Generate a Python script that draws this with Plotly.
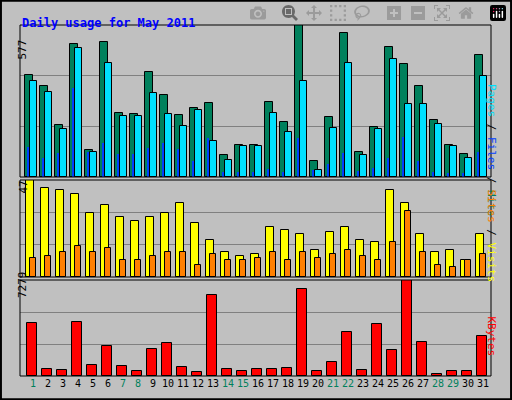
import plotly.graph_objects as go

days = list(range(1, 32))
hits = [386, 347, 199, 503, 101, 511, 242, 238, 398, 312, 234, 261, 281, 82, 121, 121,
        285, 207, 577, 62, 226, 546, 94, 191, 495, 429, 347, 215, 121, 86, 464]
files = [363, 324, 183, 488, 94, 433, 230, 230, 320, 238, 195, 254, 137, 66, 117, 117,
         242, 172, 363, 27, 187, 433, 82, 183, 449, 277, 277, 203, 117, 74, 382]
pages = [113, 74, 90, 339, 94, 129, 86, 86, 109, 129, 105, 59, 148, 20, 20, 20,
         31, 20, 148, 27, 51, 90, 23, 35, 74, 152, 59, 20, 16, 16, 94]
visits = [47, 43, 42, 40, 31, 35, 29, 27, 29, 31, 36, 26, 18, 12, 10, 11,
          24, 23, 21, 13, 22, 24, 18, 17, 42, 36, 21, 12, 13, 8, 21]
sites = [9, 10, 12, 15, 12, 14, 8, 8, 10, 12, 12, 6, 11, 8, 8, 9,
         12, 8, 12, 9, 11, 13, 10, 8, 17, 32, 12, 6, 5, 8, 11]
kbytes = [4011, 505, 425, 4091, 824, 2258, 744, 345, 2019, 2497, 664, 266, 6163, 505, 345, 505,
          505, 584, 6561, 345, 1063, 3374, 425, 3932, 1939, 7279, 2577, 186, 345, 345, 3055]
weekends = [1, 7, 8, 14, 15, 21, 22, 28, 29]

W, H = 512, 400
L, R = 20, 491
panels = {"y": (25, 177), "y2": (180, 277), "y3": (280, 376)}
mono = "DejaVu Sans Mono"


def dom(top, bot):
    return [1 - bot / H, 1 - top / H]


def off(vals, d):
    return [v + d for v in vals]


line = dict(color="black", width=1)
fig = go.Figure()
fig.add_bar(x=off(days, -0.27), y=hits, width=0.47, marker=dict(color="#00805c", line=line), yaxis="y")
fig.add_bar(x=off(days, 0.0), y=files, width=0.47, marker=dict(color="#00e0ff", line=line), yaxis="y")
fig.add_bar(x=off(days, -0.32), y=pages, width=0.15, marker=dict(color="#0040ff", line=dict(width=0)), yaxis="y")
fig.add_bar(x=off(days, -0.22), y=visits, width=0.53, marker=dict(color="#ffff00", line=line), yaxis="y2")
fig.add_bar(x=off(days, 0.0), y=sites, width=0.45, marker=dict(color="#ff8000", line=line), yaxis="y2")
fig.add_bar(x=off(days, -0.1), y=kbytes, width=0.67, marker=dict(color="#ff0000", line=line), yaxis="y3")

ticktext = [f'<span style="color:#00805c">{d}</span>' if d in weekends else str(d) for d in days]


def yax(name, mx):
    t, b = panels[name]
    return dict(domain=dom(t, b), range=[0, mx], tickvals=[mx / 3, 2 * mx / 3],
                showticklabels=False, gridcolor="#808080", gridwidth=1,
                zeroline=False, showline=False, ticks="", fixedrange=True, anchor="x")


fig.update_layout(
    width=W, height=H, barmode="overlay", showlegend=False,
    paper_bgcolor="#c0c0c0", plot_bgcolor="#c0c0c0",
    margin=dict(l=L, r=W - R, t=0, b=0),
    bargap=0,
    xaxis=dict(range=[0.13, 31.53], tickvals=days, ticktext=ticktext, anchor="y3",
               showgrid=False, zeroline=False, ticks="", showline=False, tickangle=0,
               tickfont=dict(family=mono, size=10, color="black")),
    yaxis=yax("y", 577), yaxis2=yax("y2", 47), yaxis3=yax("y3", 7279),
)

shapes = []
for name, (t, b) in panels.items():
    shapes.append(dict(type="rect", xref="paper", yref="paper", x0=0, x1=1,
                       y0=1 - b / H, y1=1 - t / H, line=dict(color="black", width=1)))
# outer frame
shapes.append(dict(type="rect", xref="paper", yref="paper", x0=-L / (R - L) + 0.002,
                   x1=(W - L) / (R - L) - 0.002, y0=0.002, y1=0.998,
                   line=dict(color="black", width=2)))
fig.update_layout(shapes=shapes)


def px(x):
    return (x - L) / (R - L)


ann = [
    dict(text="<b>Daily usage for May 2011</b>", x=px(20), y=1 - 14 / H, xanchor="left",
         font=dict(family=mono, size=12, color="#0000ff")),
    dict(text="577", x=px(14), y=1 - 38 / H, textangle=-90, font=dict(family=mono, size=11, color="black")),
    dict(text="47", x=px(14), y=1 - 187 / H, textangle=-90, font=dict(family=mono, size=11, color="black")),
    dict(text="7279", x=px(14), y=1 - 300 / H, textangle=-90, font=dict(family=mono, size=11, color="black")),
    dict(text='<span style="color:#00e0ff">Pages</span> / <span style="color:#0040ff">Files</span>'
              ' / <span style="color:#00805c">Hits</span>',
         x=px(500), y=1 - 82 / H, textangle=90, font=dict(family=mono, size=11, color="black")),
    dict(text='<span style="color:#ff8000">Sites</span> / <span style="color:#ffff00">Visits</span>',
         x=px(500), y=1 - 236 / H, textangle=90, font=dict(family=mono, size=11, color="black")),
    dict(text="KBytes", x=px(500), y=1 - 358 / H, textangle=90, font=dict(family=mono, size=11, color="#ff0000")),
]
for a in ann:
    a.update(xref="paper", yref="paper", showarrow=False)
fig.update_layout(annotations=ann)

fig.write_html("out.html", post_script="document.body.style.margin='0';")
